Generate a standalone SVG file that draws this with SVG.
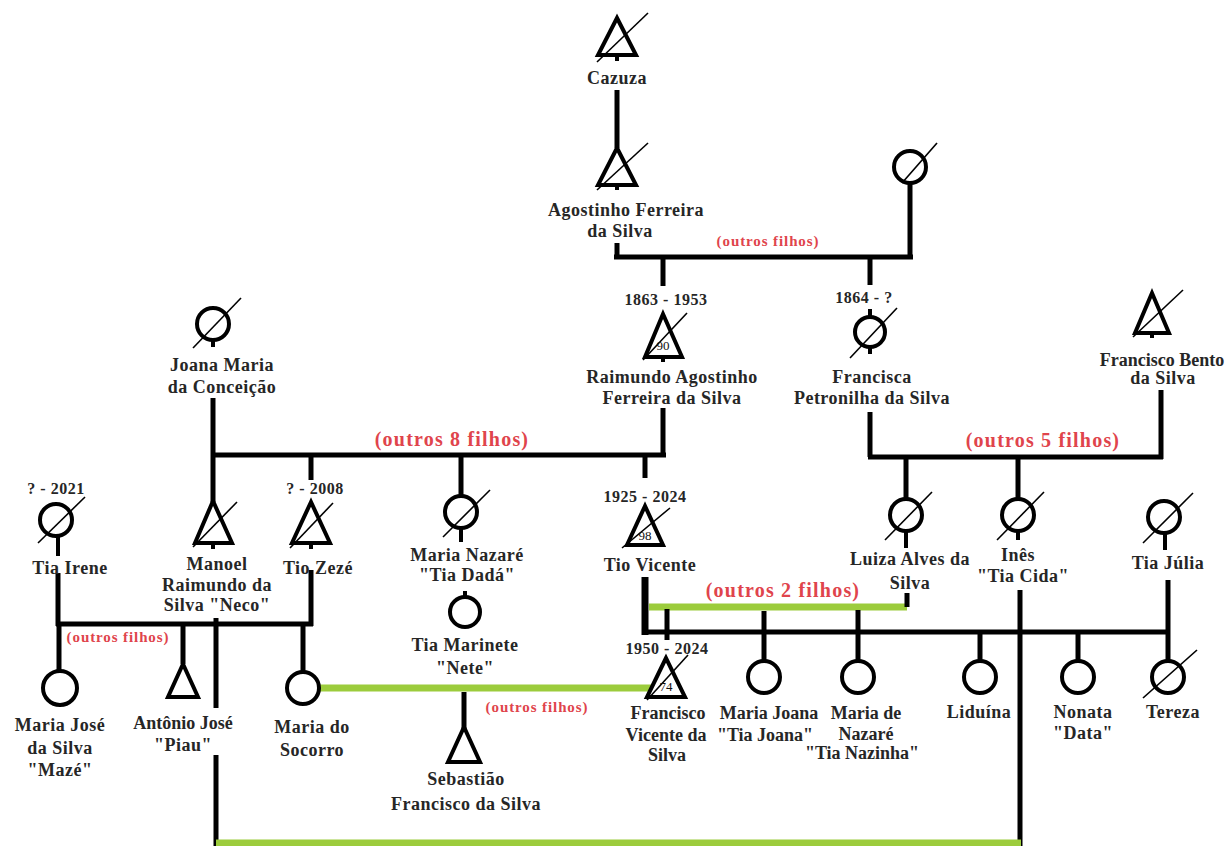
<svg xmlns="http://www.w3.org/2000/svg" width="1228" height="846" viewBox="0 0 1228 846">
<style>
.ln{stroke:#000;stroke-width:5;fill:none;stroke-linecap:butt}
.tk{stroke:#000;stroke-width:7;fill:none}
.gr{stroke:#9ccc3c;stroke-width:7;fill:none}
.sym{fill:#fff;stroke:#000;stroke-width:4;stroke-linejoin:miter}
.sl{stroke:#000;stroke-width:1.6}
.st{stroke:#000;stroke-width:4}
text{font-family:"Liberation Serif","Times New Roman",serif;font-weight:bold;fill:#262626;text-anchor:middle}
.nm{font-size:18px;letter-spacing:0.5px}
.tg{letter-spacing:0}
.dt{font-size:16px;letter-spacing:0.5px}
.rd{fill:#e0444c}
.r1{font-size:15px;letter-spacing:0.9px}
.r2{font-size:20px;letter-spacing:1.2px}
.ag{font-size:13px;font-weight:normal;fill:#111}
</style>
<rect width="1228" height="846" fill="#fff"/>
<g id="connectors">
  <line class="ln" x1="617" y1="90" x2="617" y2="148"/>
  <line class="ln" x1="617" y1="243" x2="617" y2="257"/>
  <line class="ln" x1="614" y1="257" x2="913" y2="257"/>
  <line class="ln" x1="910" y1="183" x2="910" y2="257"/>
  <line class="ln" x1="663" y1="257" x2="663" y2="286"/>
  <line class="ln" x1="870" y1="257" x2="870" y2="285"/>
  <line class="ln" x1="663" y1="408" x2="663" y2="457"/>
  <line class="ln" x1="211" y1="455" x2="666" y2="455"/>
  <line class="ln" x1="213" y1="398" x2="213" y2="502"/>
  <line class="ln" x1="311" y1="455" x2="311" y2="480"/>
  <line class="ln" x1="461" y1="455" x2="461" y2="497"/>
  <line class="ln" x1="645" y1="455" x2="645" y2="478"/>
  <line class="ln" x1="870" y1="412" x2="870" y2="457"/>
  <line class="ln" x1="868" y1="457" x2="1163" y2="457"/>
  <line class="ln" x1="1161" y1="390" x2="1161" y2="459"/>
  <line class="ln" x1="906" y1="457" x2="906" y2="500"/>
  <line class="ln" x1="1018" y1="457" x2="1018" y2="500"/>
  <line class="ln" x1="58" y1="573" x2="58" y2="626"/>
  <line class="ln" x1="311" y1="570" x2="311" y2="626"/>
  <line class="ln" x1="56" y1="624" x2="313" y2="624"/>
  <line class="ln" x1="59" y1="624" x2="59" y2="672"/>
  <line class="ln" x1="183" y1="624" x2="183" y2="664"/>
  <line class="ln" x1="303" y1="624" x2="303" y2="672"/>
  <line class="ln" x1="216" y1="618" x2="216" y2="708"/>
  <line class="ln" x1="216" y1="755" x2="216" y2="846"/>
  <line class="gr" x1="318" y1="688" x2="652" y2="688"/>
  <line class="ln" x1="464" y1="692" x2="464" y2="729"/>
  <line class="tk" x1="645" y1="577" x2="645" y2="635"/>
  <line class="ln" x1="642" y1="632" x2="1170" y2="632"/>
  <line class="gr" x1="649" y1="607" x2="907" y2="607"/>
  <line class="ln" x1="907" y1="593" x2="907" y2="607"/>
  <line class="ln" x1="667" y1="609" x2="667" y2="640"/>
  <line class="ln" x1="764" y1="611" x2="764" y2="662"/>
  <line class="ln" x1="858" y1="610" x2="858" y2="662"/>
  <line class="ln" x1="980" y1="632" x2="980" y2="662"/>
  <line class="ln" x1="1078" y1="632" x2="1078" y2="662"/>
  <line class="ln" x1="1168" y1="580" x2="1168" y2="662"/>
  <line class="ln" x1="1020" y1="590" x2="1020" y2="846"/>
  <line class="gr" x1="216" y1="843" x2="1021" y2="843"/>
</g>
<g id="n-cazuza">
  <line class="st" x1="617" y1="55" x2="617" y2="61"/>
  <path class="sym" d="M617,18 L598,55 L636,55 Z"/>
  <line class="sl" x1="597" y1="62" x2="648" y2="13"/>
  <text class="nm" x="617" y="84">Cazuza</text>
</g>
<g id="n-agostinho">
  <line class="st" x1="617" y1="185" x2="617" y2="190"/>
  <path class="sym" d="M617,148 L598,185 L636,185 Z"/>
  <line class="sl" x1="597" y1="190" x2="648" y2="143"/>
  <text class="nm" x="626" y="216">Agostinho Ferreira</text>
  <text class="nm" x="620" y="237">da Silva</text>
</g>
<g id="n-esposa-agostinho">
  <circle class="sym" cx="910" cy="167" r="16"/>
  <line class="sl" x1="902" y1="183" x2="937" y2="143"/>
</g>
<text class="rd r1" x="768" y="246">(outros filhos)</text>
<g id="n-raimundo">
  <text class="dt" x="666" y="305">1863 - 1953</text>
  <line class="st" x1="663" y1="357" x2="663" y2="362"/>
  <path class="sym" d="M663,314 L645,357 L682,357 Z"/>
  <line class="sl" x1="643" y1="360" x2="687" y2="313"/>
  <text class="ag" x="663" y="350">90</text>
  <text class="nm" x="672" y="383">Raimundo Agostinho</text>
  <text class="nm" x="672" y="404">Ferreira da Silva</text>
</g>
<g id="n-francisca">
  <text class="dt" x="864" y="303">1864 - ?</text>
  <line class="st" x1="870" y1="309" x2="870" y2="354"/>
  <circle class="sym" cx="870" cy="332" r="15"/>
  <line class="sl" x1="850" y1="358" x2="897" y2="308"/>
  <text class="nm" x="872" y="383">Francisca</text>
  <text class="nm" x="872" y="404">Petronilha da Silva</text>
</g>
<g id="n-francisco-bento">
  <line class="st" x1="1152" y1="333" x2="1152" y2="338"/>
  <path class="sym" d="M1152,293 L1135,333 L1169,333 Z"/>
  <line class="sl" x1="1133" y1="337" x2="1183" y2="290"/>
  <text class="nm tg" x="1162" y="366">Francisco Bento</text>
  <text class="nm" x="1163" y="384">da Silva</text>
</g>
<g id="n-joana">
  <line class="st" x1="213" y1="340" x2="213" y2="347"/>
  <circle class="sym" cx="213" cy="324" r="16"/>
  <line class="sl" x1="193" y1="348" x2="241" y2="298"/>
  <text class="nm" x="222" y="371">Joana Maria</text>
  <text class="nm" x="222" y="393">da Conceição</text>
</g>
<text class="rd r2" x="452" y="446">(outros 8 filhos)</text>
<text class="rd r2" x="1043" y="447">(outros 5 filhos)</text>
<g id="n-irene">
  <text class="dt" x="56" y="494">? - 2021</text>
  <line class="st" x1="58" y1="536" x2="58" y2="556"/>
  <circle class="sym" cx="56" cy="520" r="16"/>
  <line class="sl" x1="38" y1="543" x2="85" y2="497"/>
  <text class="nm" x="70" y="574">Tia Irene</text>
</g>
<g id="n-manoel">
  <line class="st" x1="213" y1="543" x2="213" y2="549"/>
  <path class="sym" d="M213,501 L195,543 L232,543 Z"/>
  <line class="sl" x1="193" y1="547" x2="237" y2="502"/>
  <text class="nm" x="217" y="570">Manoel</text>
  <text class="nm" x="217" y="591">Raimundo da</text>
  <text class="nm" x="217" y="611">Silva "Neco"</text>
</g>
<g id="n-zeze">
  <text class="dt" x="315" y="494">? - 2008</text>
  <line class="st" x1="311" y1="543" x2="311" y2="549"/>
  <path class="sym" d="M311,502 L292,543 L330,543 Z"/>
  <line class="sl" x1="290" y1="548" x2="333" y2="503"/>
  <text class="nm" x="318" y="574">Tio Zezé</text>
</g>
<g id="n-nazare">
  <line class="st" x1="461" y1="527" x2="461" y2="542"/>
  <circle class="sym" cx="461" cy="512" r="16"/>
  <line class="sl" x1="443" y1="537" x2="490" y2="490"/>
  <text class="nm" x="467" y="561">Maria Nazaré</text>
  <text class="nm" x="467" y="581">"Tia Dadá"</text>
</g>
<g id="n-marinete">
  <line class="st" x1="465" y1="591" x2="465" y2="598"/>
  <circle class="sym" cx="465" cy="612" r="15"/>
  <text class="nm" x="465" y="651">Tia Marinete</text>
  <text class="nm" x="465" y="674">"Nete"</text>
</g>
<text class="rd r1" x="537" y="712">(outros filhos)</text>
<g id="n-sebastiao">
  <path class="sym" d="M464,727 L448,762 L480,762 Z"/>
  <text class="nm" x="466" y="785">Sebastião</text>
  <text class="nm" x="466" y="810">Francisco da Silva</text>
</g>
<g id="n-vicente">
  <text class="dt" x="645" y="502">1925 - 2024</text>
  <path class="sym" d="M645,506 L627,545 L663,545 Z"/>
  <line class="sl" x1="622" y1="548" x2="670" y2="508"/>
  <text class="ag" x="645" y="540">98</text>
  <text class="nm" x="650" y="571">Tio Vicente</text>
</g>
<text class="rd r2" x="783" y="597">(outros 2 filhos)</text>
<g id="n-luiza">
  <line class="st" x1="906" y1="530" x2="906" y2="548"/>
  <circle class="sym" cx="906" cy="515" r="16"/>
  <line class="sl" x1="885" y1="540" x2="932" y2="492"/>
  <text class="nm" x="910" y="565">Luiza Alves da</text>
  <text class="nm" x="910" y="589">Silva</text>
</g>
<g id="n-ines">
  <line class="st" x1="1018" y1="530" x2="1018" y2="540"/>
  <circle class="sym" cx="1018" cy="515" r="16"/>
  <line class="sl" x1="997" y1="540" x2="1044" y2="492"/>
  <text class="nm" x="1018" y="561">Inês</text>
  <text class="nm" x="1023" y="582">"Tia Cida"</text>
</g>
<g id="n-julia">
  <line class="st" x1="1165" y1="532" x2="1165" y2="550"/>
  <circle class="sym" cx="1164" cy="517" r="16"/>
  <line class="sl" x1="1143" y1="543" x2="1193" y2="493"/>
  <text class="nm" x="1168" y="569">Tia Júlia</text>
</g>
<g id="n-maria-jose">
  <circle class="sym" cx="60" cy="688" r="17"/>
  <text class="nm" x="60" y="731">Maria José</text>
  <text class="nm" x="60" y="754">da Silva</text>
  <text class="nm" x="60" y="776">"Mazé"</text>
</g>
<g id="n-antonio">
  <path class="sym" d="M183,664 L168,697 L198,697 Z"/>
  <text class="nm tg" x="183" y="729">Antônio José</text>
  <text class="nm" x="183" y="751">"Piau"</text>
</g>
<text class="rd r1" x="118" y="642">(outros filhos)</text>
<g id="n-socorro">
  <circle class="sym" cx="303" cy="688" r="16"/>
  <text class="nm" x="312" y="733">Maria do</text>
  <text class="nm" x="312" y="756">Socorro</text>
</g>
<g id="n-francisco-vicente">
  <text class="dt" x="667" y="654">1950 - 2024</text>
  <path class="sym" d="M666,658 L647,697 L685,697 Z"/>
  <line class="sl" x1="647" y1="700" x2="688" y2="655"/>
  <text class="ag" x="666" y="691">74</text>
  <text class="nm tg" x="668" y="719">Francisco</text>
  <text class="nm tg" x="666" y="741">Vicente da</text>
  <text class="nm tg" x="667" y="761">Silva</text>
</g>
<g id="n-maria-joana">
  <circle class="sym" cx="764" cy="677" r="16"/>
  <text class="nm tg" x="769" y="719">Maria Joana</text>
  <text class="nm tg" x="765" y="741">"Tia Joana"</text>
</g>
<g id="n-nazinha">
  <circle class="sym" cx="858" cy="677" r="16"/>
  <text class="nm tg" x="866" y="719">Maria de</text>
  <text class="nm tg" x="866" y="740">Nazaré</text>
  <text class="nm tg" x="862" y="759">"Tia Nazinha"</text>
</g>
<g id="n-liduina">
  <circle class="sym" cx="980" cy="677" r="16"/>
  <text class="nm" x="979" y="718">Liduína</text>
</g>
<g id="n-nonata">
  <circle class="sym" cx="1078" cy="677" r="16"/>
  <text class="nm" x="1083" y="718">Nonata</text>
  <text class="nm" x="1083" y="739">"Data"</text>
</g>
<g id="n-tereza">
  <circle class="sym" cx="1168" cy="677" r="16"/>
  <line class="sl" x1="1143" y1="698" x2="1197" y2="650"/>
  <text class="nm" x="1173" y="718">Tereza</text>
</g>
</svg>
